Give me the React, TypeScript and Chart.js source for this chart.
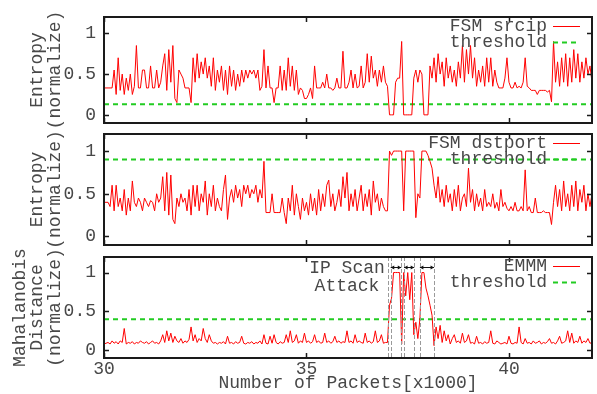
import React, { useEffect, useRef } from 'react';
import { Chart, registerables } from 'chart.js';

Chart.register(...registerables);

// ---------- data ----------
const X_START = 30;
const X_STEP = 0.05;
const X_MIN = 30;
const X_MAX = 42.05;
const Y_MIN = -0.1;
const Y_MAX = 1.2;
const xTickValues = [30, 35, 40];
const yTickValues = [0, 0.5, 1];

const srcipValues = [
  0.33, 0.33, 0.33, 0.33, 0.33, 0.55, 0.25, 0.7, 0.3, 0.5,
  0.25, 0.45, 0.3, 0.5, 0.25, 0.35, 0.85, 0.33, 0.33, 0.55,
  0.55, 0.33, 0.33, 0.6, 0.33, 0.33, 0.55, 0.33, 0.4, 0.6,
  0.75, 0.3, 0.8, 0.4, 0.85, 0.2, 0.15, 0.55, 0.5, 0.45,
  0.33, 0.33, 0.33, 0.15, 0.7, 0.4, 0.75, 0.45, 0.65, 0.5,
  0.7, 0.45, 0.6, 0.35, 0.7, 0.3, 0.55, 0.4, 0.6, 0.3,
  0.55, 0.25, 0.6, 0.35, 0.55, 0.3, 0.5, 0.35, 0.55, 0.4,
  0.55, 0.45, 0.55, 0.5, 0.55, 0.45, 0.55, 0.3, 0.35, 0.8,
  0.33, 0.6, 0.33, 0.33, 0.15, 0.33, 0.33, 0.6, 0.3, 0.55,
  0.3, 0.7, 0.35, 0.6, 0.3, 0.55, 0.25, 0.33, 0.3, 0.2,
  0.2, 0.25, 0.33, 0.2, 0.6, 0.33, 0.33, 0.33, 0.4, 0.33,
  0.5, 0.33, 0.33, 0.3, 0.33, 0.45, 0.33, 0.33, 0.78, 0.33,
  0.33, 0.4, 0.55, 0.33, 0.5, 0.33, 0.35, 0.6, 0.33, 0.4,
  0.75, 0.4, 0.72, 0.45, 0.55, 0.35, 0.55, 0.4, 0.6, 0.4,
  0.35, 0, 0, 0, 0.4, 0.45, 0.45, 0.9, 0, 0,
  0, 0, 0, 0.45, 0.55, 0.4, 0.55, 0.5, 0, 0,
  0, 0.6, 0.45, 0.7, 0.4, 0.75, 0.5, 0.65, 0.35, 0.7,
  0.45, 0.6, 0.4, 0.55, 0.35, 0.65, 0.45, 0.85, 0.4, 0.8,
  0.5, 0.85, 0.45, 0.7, 0.35, 0.55, 0.4, 0.6, 0.35, 0.7,
  0.4, 0.7, 0.35, 0.55, 0.4, 0.33, 0.33, 0.33, 0.45, 0.7,
  0.4, 0.33, 0.33, 0.4, 0.33, 0.35, 0.33, 0.4, 0.7, 0.35,
  0.33, 0.3, 0.3, 0.3, 0.25, 0.3, 0.3, 0.3, 0.3, 0.28,
  0.3, 0.16, 0.9, 0.4, 0.65, 0.35, 0.7, 0.4, 0.75, 0.35,
  0.7, 0.4, 0.8, 0.45, 0.75, 0.4, 0.65, 0.45, 0.7, 0.5,
  0.6, 0.4,
];

const dstportValues = [
  0.4, 0.4, 0.4, 0.35, 0.6, 0.3, 0.6, 0.35, 0.45, 0.3,
  0.55, 0.25, 0.45, 0.3, 0.65, 0.4, 0.35, 0.45, 0.4, 0.3,
  0.45, 0.4, 0.35, 0.42, 0.4, 0.3, 0.5, 0.4, 0.45, 0.7,
  0.3, 0.75, 0.25, 0.72, 0.2, 0.15, 0.45, 0.35, 0.5, 0.4,
  0.45, 0.3, 0.55, 0.25, 0.6, 0.35, 0.6, 0.3, 0.5, 0.4,
  0.65, 0.25, 0.5, 0.35, 0.6, 0.3, 0.45, 0.35, 0.3, 0.55,
  0.72, 0.2, 0.45, 0.55, 0.4, 0.6, 0.45, 0.55, 0.35, 0.6,
  0.5, 0.6, 0.45, 0.55, 0.5, 0.6, 0.4, 0.55, 0.45, 0.88,
  0.28, 0.28, 0.28, 0.5, 0.28, 0.28, 0.28, 0.28, 0.45, 0.28,
  0.15, 0.45, 0.3, 0.6, 0.25, 0.5, 0.35, 0.2, 0.45, 0.3,
  0.4, 0.25, 0.5, 0.3, 0.45, 0.25, 0.55, 0.3, 0.5, 0.35,
  0.6, 0.66, 0.35, 0.5, 0.3, 0.4, 0.55, 0.35, 0.7, 0.45,
  0.75, 0.3, 0.5, 0.35, 0.55, 0.3, 0.45, 0.6, 0.3, 0.5,
  0.35, 0.55, 0.25, 0.65, 0.4, 0.5, 0.3, 0.45, 0.35, 0.3,
  0.3, 1.0, 0.95, 1.0, 1.0, 1.0, 1.0, 1.0, 0.3, 1.0,
  1.0, 1.0, 1.0, 1.0, 0.22, 0.5, 0.45, 1.0, 1.0, 1.0,
  0.95, 0.88, 0.8, 0.6, 0.45, 0.7, 0.4, 0.55, 0.35, 0.6,
  0.4, 0.5, 0.3, 0.55, 0.35, 0.6, 0.3, 0.45, 0.5, 0.35,
  0.8, 0.4, 0.55, 0.3, 0.5, 0.35, 0.45, 0.3, 0.55, 0.35,
  0.4, 0.35, 0.5, 0.33, 0.4, 0.3, 0.55, 0.35, 0.4, 0.33,
  0.3, 0.35, 0.3, 0.4, 0.3, 0.3, 0.35, 0.3, 0.78, 0.3,
  0.35, 0.28, 0.28, 0.45, 0.28, 0.28, 0.28, 0.3, 0.28, 0.28,
  0.28, 0.14, 0.4, 0.6, 0.35, 0.55, 0.3, 0.65, 0.35, 0.5,
  0.3, 0.6, 0.35, 0.65, 0.3, 0.55, 0.4, 0.6, 0.3, 0.5,
  0.35, 0.5,
];

const emmmValues = [
  0.08, 0.09, 0.1, 0.08, 0.12, 0.09, 0.11, 0.08, 0.12, 0.1,
  0.28, 0.08, 0.1, 0.09, 0.11, 0.08, 0.1, 0.09, 0.12, 0.1,
  0.09, 0.11, 0.08, 0.1, 0.12, 0.09, 0.1, 0.08, 0.12, 0.2,
  0.1, 0.25, 0.12, 0.22, 0.1, 0.18, 0.12, 0.1, 0.15, 0.09,
  0.12, 0.1, 0.14, 0.3, 0.12, 0.2, 0.1, 0.15, 0.12, 0.28,
  0.15, 0.1, 0.2, 0.12, 0.09, 0.1, 0.08, 0.1, 0.09, 0.11,
  0.08, 0.18, 0.09, 0.1, 0.08, 0.11, 0.09, 0.1, 0.18, 0.09,
  0.08, 0.1, 0.09, 0.11, 0.08, 0.1, 0.09, 0.12, 0.08, 0.2,
  0.09, 0.08, 0.18, 0.09, 0.2, 0.1, 0.08, 0.11, 0.09, 0.1,
  0.2, 0.1, 0.25, 0.1, 0.12, 0.2, 0.09, 0.12, 0.1, 0.22,
  0.1, 0.12, 0.09, 0.11, 0.2, 0.1, 0.12, 0.09, 0.1, 0.22,
  0.1, 0.12, 0.09, 0.11, 0.18, 0.1, 0.12, 0.09, 0.11, 0.1,
  0.25, 0.1, 0.12, 0.09, 0.2, 0.1, 0.12, 0.1, 0.09, 0.22,
  0.1, 0.12, 0.09, 0.11, 0.25, 0.1, 0.12, 0.2, 0.09, 0.1,
  0.1, 0.58, 0.67, 1.0, 1.0, 1.0, 1.0, 0.08, 1.0, 0.7,
  1.0, 0.65, 1.0, 0.2, 0.36, 0.15, 0.4, 1.0, 1.0, 0.8,
  0.7, 0.58, 0.45, 0.06, 0.3, 0.15, 0.32, 0.1, 0.25, 0.12,
  0.2, 0.08, 0.15, 0.2, 0.1, 0.12, 0.09, 0.22, 0.1, 0.12,
  0.2, 0.09, 0.1, 0.08, 0.18, 0.09, 0.1, 0.08, 0.11, 0.09,
  0.1, 0.25, 0.09, 0.08, 0.12, 0.1, 0.08, 0.09, 0.1, 0.08,
  0.18, 0.09, 0.08, 0.1, 0.09, 0.3, 0.1, 0.08, 0.15, 0.09,
  0.1, 0.08, 0.12, 0.09, 0.1, 0.12, 0.08, 0.1, 0.09, 0.11,
  0.15, 0.09, 0.1, 0.08, 0.12, 0.18, 0.09, 0.1, 0.12, 0.25,
  0.1, 0.22, 0.09, 0.12, 0.1, 0.18, 0.09, 0.12, 0.1, 0.15,
  0.09, 0.1,
];

const srcipThreshold = 0.13;
const dstportThreshold = 0.9;
const emmmThreshold = 0.4;

const seriesLabels = ['FSM srcip', 'FSM dstport', 'EMMM'];
const thresholdLabel = 'threshold';
const yTitles = [
  ['Entropy', '(normalize)'],
  ['Entropy', '(normalize)'],
  ['Mahalanobis', 'Distance', '(normalize)'],
];
const xTitle = 'Number of Packets[x1000]';

const attackLines = [37.01, 37.08, 37.34, 37.41, 37.66, 37.8, 38.15];
const attackArrows = [
  [37.08, 37.34],
  [37.41, 37.66],
  [37.8, 38.15],
];
const attackText = ['IP Scan', 'Attack'];
const attackTextX = 36.0;
const attackTextY = [1.06, 0.83];

// ---------- styling ----------
const W = 597;
const H = 394;
const FONT = "'Liberation Mono', 'DejaVu Sans Mono', monospace";
const FONT_SIZE = 18;
const TEXT = '#484848';
const RED = '#ff0000';
const GREEN = '#22cc22';

type PanelCfg = {
  values: number[];
  threshold: number;
  label: string;
  yTitle: string[];
  top: number;
  bottom: number;
  titlePad: number;
  showX: boolean;
  annotate: boolean;
};

const panels: PanelCfg[] = [
  { values: srcipValues, threshold: srcipThreshold, label: seriesLabels[0], yTitle: yTitles[0], top: 12, bottom: 123, titlePad: 29, showX: false, annotate: false },
  { values: dstportValues, threshold: dstportThreshold, label: seriesLabels[1], yTitle: yTitles[1], top: 134, bottom: 245, titlePad: 29, showX: false, annotate: false },
  { values: emmmValues, threshold: emmmThreshold, label: seriesLabels[2], yTitle: yTitles[2], top: 257, bottom: 358, titlePad: 11.5, showX: true, annotate: true },
];

const decoPlugin = {
  id: 'deco',
  afterDatasetsDraw(chart: any, _args: any, opts: any) {
    const { ctx, chartArea: a, scales } = chart;
    const xs = scales.x;
    const ys = scales.y;
    ctx.save();

    // annotations (attack intervals)
    if (opts.annotate) {
      ctx.strokeStyle = '#9a9a9a';
      ctx.lineWidth = 1;
      ctx.setLineDash([4, 2]);
      for (const v of attackLines) {
        const px = Math.round(xs.getPixelForValue(v)) + 0.5;
        ctx.beginPath();
        ctx.moveTo(px, a.top);
        ctx.lineTo(px, a.bottom);
        ctx.stroke();
      }
      ctx.setLineDash([]);
      ctx.strokeStyle = '#111';
      ctx.fillStyle = '#111';
      const ay = a.top + 10.5;
      for (const [v1, v2] of attackArrows) {
        const x1 = xs.getPixelForValue(v1);
        const x2 = xs.getPixelForValue(v2);
        ctx.beginPath();
        ctx.moveTo(x1, ay);
        ctx.lineTo(x2, ay);
        ctx.stroke();
        ctx.beginPath();
        ctx.moveTo(x1, ay);
        ctx.lineTo(x1 + 3.5, ay - 2);
        ctx.lineTo(x1 + 3.5, ay + 2);
        ctx.closePath();
        ctx.fill();
        ctx.beginPath();
        ctx.moveTo(x2, ay);
        ctx.lineTo(x2 - 3.5, ay - 2);
        ctx.lineTo(x2 - 3.5, ay + 2);
        ctx.closePath();
        ctx.fill();
      }
      ctx.font = `${FONT_SIZE}px ${FONT}`;
      ctx.fillStyle = TEXT;
      ctx.textAlign = 'center';
      ctx.textBaseline = 'middle';
      attackText.forEach((t, i) => {
        ctx.fillText(t, xs.getPixelForValue(attackTextX), ys.getPixelForValue(attackTextY[i]));
      });
    }

    // frame
    ctx.strokeStyle = '#1a1a1a';
    ctx.lineWidth = 2;
    ctx.strokeRect(a.left, a.top, a.right - a.left, a.bottom - a.top);

    // inward tick marks on all four sides
    ctx.lineWidth = 1.5;
    const tl = 5;
    ctx.beginPath();
    for (const t of ys.ticks) {
      const py = Math.round(ys.getPixelForValue(t.value)) + 0.5;
      ctx.moveTo(a.left, py);
      ctx.lineTo(a.left + tl, py);
      ctx.moveTo(a.right, py);
      ctx.lineTo(a.right - tl, py);
    }
    for (const t of xs.ticks) {
      const px = Math.round(xs.getPixelForValue(t.value)) + 0.5;
      ctx.moveTo(px, a.bottom);
      ctx.lineTo(px, a.bottom - tl);
      ctx.moveTo(px, a.top);
      ctx.lineTo(px, a.top + tl);
    }
    ctx.stroke();

    // legend (gnuplot style: right aligned text, sample on the right)
    const ds = chart.data.datasets;
    ctx.font = `${FONT_SIZE}px ${FONT}`;
    ctx.textAlign = 'right';
    ctx.textBaseline = 'middle';
    const textRight = a.right - 45;
    const s1 = a.right - 39;
    const s2 = a.right - 12;
    const rows = [a.top + 9, a.top + 25];
    ds.forEach((d: any, i: number) => {
      const y = rows[i];
      ctx.fillStyle = TEXT;
      ctx.fillText(d.label, textRight, y);
      ctx.strokeStyle = d.borderColor;
      ctx.lineWidth = d.borderWidth;
      ctx.setLineDash(d.borderDash || []);
      ctx.beginPath();
      ctx.moveTo(s1, Math.round(y) + 0.5);
      ctx.lineTo(s2, Math.round(y) + 0.5);
      ctx.stroke();
      ctx.setLineDash([]);
    });

    ctx.restore();
  },
};

function Panel({ cfg }: { cfg: PanelCfg }) {
  const ref = useRef<HTMLCanvasElement | null>(null);
  useEffect(() => {
    if (!ref.current) return;
    const xAxisH = cfg.showX ? 36 : 0;
    const font = { family: FONT, size: FONT_SIZE, lineHeight: 1 };
    const chart = new Chart(ref.current, {
      type: 'line',
      data: {
        datasets: [
          {
            label: cfg.label,
            data: cfg.values.map((v, i) => ({ x: X_START + i * X_STEP, y: v })),
            borderColor: RED,
            borderWidth: 1,
            pointRadius: 0,
            tension: 0,
            fill: false,
          },
          {
            label: thresholdLabel,
            data: [
              { x: X_MIN, y: cfg.threshold },
              { x: X_MAX, y: cfg.threshold },
            ],
            borderColor: GREEN,
            borderWidth: 2,
            borderDash: [5, 4],
            pointRadius: 0,
            fill: false,
          },
        ],
      },
      options: {
        animation: false,
        responsive: false,
        maintainAspectRatio: false,
        events: [],
        layout: {
          padding: { top: cfg.top, bottom: H - cfg.bottom - xAxisH, left: 0, right: W - 592 },
        },
        plugins: {
          legend: { display: false },
          tooltip: { enabled: false },
          deco: { annotate: cfg.annotate },
        } as any,
        scales: {
          x: {
            type: 'linear',
            min: X_MIN,
            max: X_MAX,
            grid: { display: false, drawTicks: false },
            border: { display: false },
            afterBuildTicks: (s: any) => {
              s.ticks = xTickValues.map((v) => ({ value: v }));
            },
            afterFit: (s: any) => {
              s.height = xAxisH;
            },
            ticks: {
              display: cfg.showX,
              padding: 2,
              autoSkip: false,
              maxRotation: 0,
              color: TEXT,
              font,
              callback: (v: any) => String(v),
            },
            title: {
              display: cfg.showX,
              text: xTitle,
              color: TEXT,
              font,
              padding: { top: 0, bottom: 2 },
            },
          },
          y: {
            type: 'linear',
            min: Y_MIN,
            max: Y_MAX,
            grid: { display: false, drawTicks: false },
            border: { display: false },
            afterBuildTicks: (s: any) => {
              s.ticks = yTickValues.map((v) => ({ value: v }));
            },
            afterFit: (s: any) => {
              s.width = 104;
            },
            ticks: {
              padding: 8,
              color: TEXT,
              font,
              callback: (v: any) => String(v),
            },
            title: {
              display: true,
              text: cfg.yTitle,
              color: TEXT,
              font: { family: FONT, size: FONT_SIZE, lineHeight: 0.97 },
              padding: { top: cfg.titlePad, bottom: 0 },
            },
          },
        },
      },
      plugins: [decoPlugin],
    } as any);
    return () => chart.destroy();
  }, [cfg]);
  return (
    <canvas
      ref={ref}
      width={W}
      height={H}
      style={{ position: 'absolute', left: 0, top: 0, width: W, height: H }}
    />
  );
}

export default function App() {
  return (
    <div style={{ position: 'absolute', left: 0, top: 0, width: W, height: H, background: '#fff' }}>
      {panels.map((p, i) => (
        <Panel key={i} cfg={p} />
      ))}
    </div>
  );
}
